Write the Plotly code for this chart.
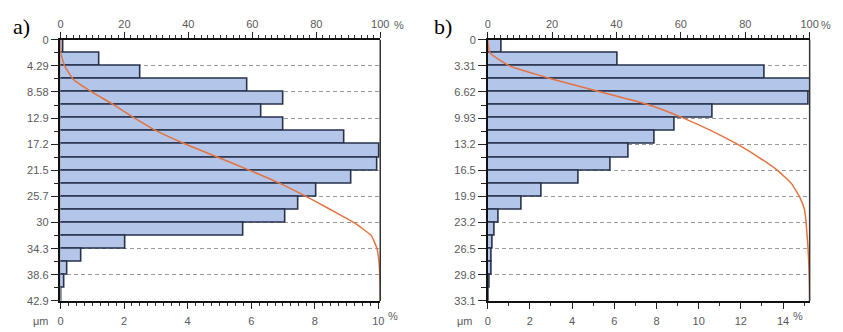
import numpy as np
import plotly.graph_objects as go

# ---- panel a) : 20 size classes of 2.145 um ----
a_step = 2.145
a_freq = [0.08, 1.24, 2.53, 5.89, 7.01, 6.31, 7.01, 8.92, 10.05, 9.98,
          9.15, 8.06, 7.49, 7.08, 5.77, 2.04, 0.65, 0.23, 0.12, 0.03]
a_cum = [0, 0.1, 1.3, 3.9, 9.8, 16.8, 23.2, 30.2, 39.2, 49.2, 59.2,
         68.6, 76.8, 84.4, 91.8, 97.2, 99.0, 99.6, 99.85, 99.97, 100]
a_ytext = ["0", "4.29", "8.58", "12.9", "17.2", "21.5", "25.7", "30", "34.3", "38.6", "42.9"]

# ---- panel b) : 20 size classes of 1.655 um ----
b_step = 1.655
b_freq = [0.67, 6.15, 13.13, 15.3, 15.2, 10.67, 8.88, 7.91, 6.70, 5.81,
          4.33, 2.54, 1.59, 0.50, 0.34, 0.26, 0.20, 0.17, 0.10, 0.05]
b_cum = [0, 0.7, 6.8, 19.9, 35.1, 50.2, 60.8, 69.7, 77.5, 84.2, 90.0,
         94.3, 96.8, 98.4, 98.9, 99.2, 99.5, 99.7, 99.85, 99.95, 100]
b_ytext = ["0", "3.31", "6.62", "9.93", "13.2", "16.5", "19.9", "23.2", "26.5", "29.8", "33.1"]

W, H = 843, 332
BAR_FILL = "#b3c5e9"
BAR_EDGE = "#27324c"
CURVE = "#e5733f"
LABEL = "#5a5a5a"
FONT = "Liberation Sans"

fig = go.Figure()


def add_panel(freq, cum, step, xa, xt, ya):
    n = len(freq)
    edges = np.arange(n + 1) * step
    centers = edges[:-1] + step / 2
    fig.add_trace(go.Bar(
        orientation="h", y=centers, x=freq, width=step,
        marker=dict(color=BAR_FILL, line=dict(color=BAR_EDGE, width=1.6)),
        xaxis=xa, yaxis=ya, showlegend=False, hoverinfo="skip"))
    fig.add_trace(go.Scatter(
        x=cum, y=edges, mode="lines",
        line=dict(color=CURVE, width=1.5, shape="spline", smoothing=0.4),
        xaxis=xt, yaxis=ya, showlegend=False, hoverinfo="skip"))


add_panel(a_freq, a_cum, a_step, "x", "x3", "y")
add_panel(b_freq, b_cum, b_step, "x2", "x4", "y2")

ydom = [1 - 306 / H, 1 - 35 / H]
dom_a = [58.3 / W, 382.7 / W]
dom_b = [491.7 / W, 818.3 / W]

tickfont = dict(family=FONT, size=11, color=LABEL)


def bottom_axis(dom, rng, major, minor, anchor):
    return dict(domain=dom, anchor=anchor, range=rng, side="bottom",
                tickvals=major, ticktext=[str(v) for v in major],
                ticks="outside", ticklen=6, tickcolor="#222", tickwidth=1,
                ticklabelstandoff=3,
                showline=True, linecolor="#111", linewidth=1.5,
                showgrid=False, zeroline=False, tickfont=tickfont,
                minor=dict(dtick=minor, ticks="outside", ticklen=3,
                           tickcolor="#333", showgrid=False),
                fixedrange=True)


def top_axis(over, anchor):
    return dict(overlaying=over, anchor=anchor, side="top", range=[0, 100],
                tickvals=[0, 20, 40, 60, 80, 100],
                ticks="outside", ticklen=6, tickcolor="#222", tickwidth=1,
                showline=True, linecolor="#111", linewidth=1.5,
                showgrid=False, zeroline=False, tickfont=tickfont,
                minor=dict(dtick=2, ticks="outside", ticklen=3,
                           tickcolor="#333", showgrid=False),
                fixedrange=True)


def left_axis(step, texts, anchor):
    vals = [i * step * 2 for i in range(len(texts))]
    return dict(domain=ydom, anchor=anchor, range=[vals[-1], 0],
                tickvals=vals, ticktext=texts,
                ticks="outside", ticklen=8, tickcolor="#222", tickwidth=1,
                showline=True, linecolor="#111", linewidth=1.5,
                showgrid=True, gridcolor="#9a9a9a", gridwidth=1, griddash="4px,3px",
                zeroline=False, tickfont=tickfont,
                minor=dict(tickvals=[v + step for v in vals[:-1]], ticks="outside",
                           ticklen=5, tickcolor="#222", showgrid=False),
                fixedrange=True)


fig.update_layout(
    width=W, height=H,
    margin=dict(l=0, r=0, t=0, b=0),
    paper_bgcolor="white", plot_bgcolor="white",
    barmode="overlay", bargap=0,
    xaxis=bottom_axis(dom_a, [0, 10.06], [0, 2, 4, 6, 8, 10], 0.25, "y"),
    xaxis2=bottom_axis(dom_b, [0, 15.26], [0, 2, 4, 6, 8, 10, 12, 14], 1, "y2"),
    xaxis3=top_axis("x", "y"),
    xaxis4=top_axis("x2", "y2"),
    yaxis=left_axis(a_step, a_ytext, "x"),
    yaxis2=left_axis(b_step, b_ytext, "x2"),
)

# right-hand frame of each panel
for xr, yr in (("x domain", "y domain"), ("x2 domain", "y2 domain")):
    fig.add_shape(type="line", xref=xr, yref=yr, x0=1, x1=1, y0=0, y1=1,
                  line=dict(color="#333", width=1.5), layer="above")


def txt(x, y, s, size=11, color=LABEL, family=FONT):
    fig.add_annotation(xref="paper", yref="paper", x=x / W, y=1 - y / H, text=s,
                       showarrow=False, font=dict(family=family, size=size, color=color),
                       xanchor="center", yanchor="middle")


# unit labels
txt(396, 322, "%")
txt(402, 20, "%")
txt(806, 322, "%")
txt(835, 20, "%")
txt(39, 327, "μm")
txt(469, 327, "μm")

# panel letters
txt(19, 21, "a)", size=22, color="#000", family="Liberation Serif")
txt(446, 21, "b)", size=22, color="#000", family="Liberation Serif")

fig.write_html("out.html")
